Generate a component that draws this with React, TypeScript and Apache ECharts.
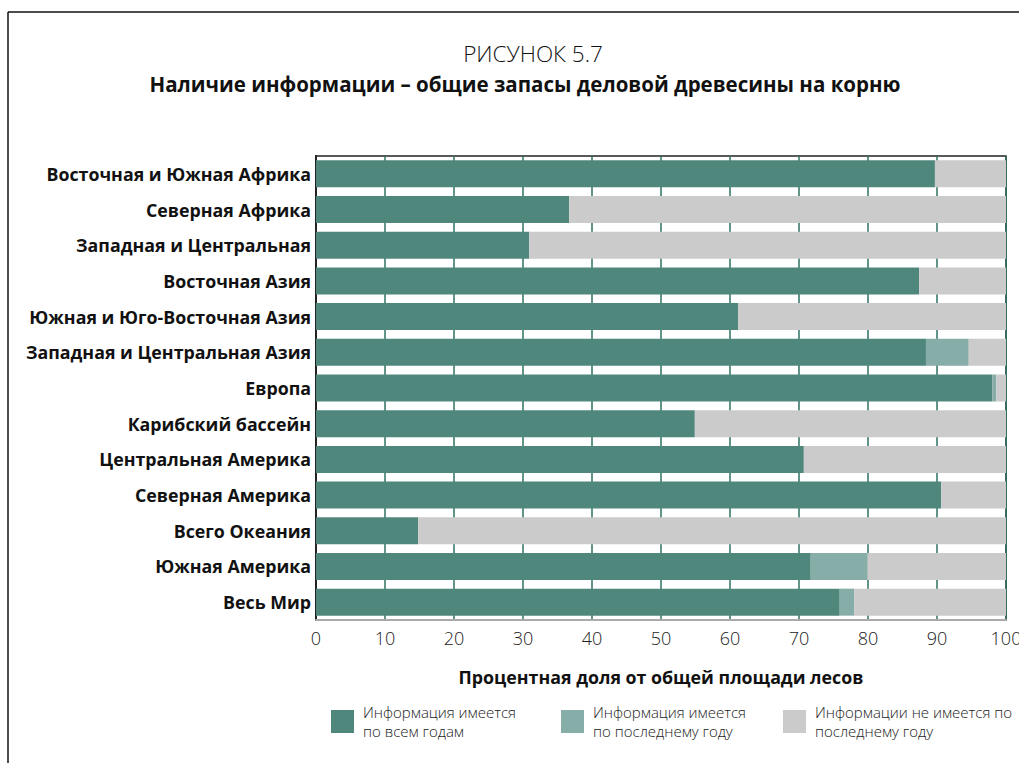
import React, { useEffect, useRef } from "react";
import * as echarts from "echarts";

const categories = [
  "Восточная и Южная Африка",
  "Северная Африка",
  "Западная и Центральная",
  "Восточная Азия",
  "Южная и Юго-Восточная Азия",
  "Западная и Центральная Азия",
  "Европа",
  "Карибский бассейн",
  "Центральная Америка",
  "Северная Америка",
  "Всего Океания",
  "Южная Америка",
  "Весь Мир",
];
const allYears = [89.7, 36.7, 30.9, 87.4, 61.2, 88.4, 98.0, 54.9, 70.7, 90.6, 14.8, 71.7, 75.9];
const lastYear = [0, 0, 0, 0, 0, 6.2, 0.6, 0, 0, 0, 0, 8.2, 2.1];
const noInfo = [10.3, 63.3, 69.1, 12.6, 38.8, 5.4, 1.4, 45.1, 29.3, 9.4, 85.2, 20.1, 22.0];

const seriesNames = [
  "Информация имеется\nпо всем годам",
  "Информация имеется\nпо последнему году",
  "Информации не имеется по\nпоследнему году",
];
const colors = ["#4F877D", "#87ADA8", "#CBCBCB"];

const FONT = "'Open Sans', 'Noto Sans', sans-serif";

export default function App() {
  const ref = useRef<HTMLDivElement>(null);
  useEffect(() => {
    if (!ref.current) return;
    const chart = echarts.init(ref.current, undefined, { renderer: "svg" });
    const legendPos = [331, 561, 783];
    chart.setOption({
      animation: false,
      backgroundColor: "#fff",
      title: [
        {
          text: "РИСУНОК 5.7",
          left: 528,
          top: 37,
          textAlign: "center",
          textStyle: { fontFamily: FONT, fontWeight: 300, fontSize: 22.5, color: "#111" },
        },
        {
          text: "Наличие информации – общие запасы деловой древесины на корню",
          left: 520,
          top: 68,
          textAlign: "center",
          textStyle: { fontFamily: FONT, fontWeight: "bold", fontSize: 20.5, color: "#111" },
        },
      ],
      legend: seriesNames.map((n, i) => ({
        data: [n],
        left: legendPos[i],
        top: 702,
        padding: 0,
        itemWidth: 23,
        itemHeight: 23,
        icon: "rect",
        align: "left",
        textStyle: {
          fontFamily: FONT,
          fontWeight: 300,
          fontSize: 15,
          color: "#222",
          lineHeight: 19,
          padding: [1, 0, 0, 4],
        },
      })),
      grid: {
        left: 316,
        right: 13,
        top: 156,
        bottom: 143,
        outerBoundsMode: "none",
        containLabel: false,
        show: true,
        borderColor: "#222",
        borderWidth: 1.5,
      },
      xAxis: {
        type: "value",
        min: 0,
        max: 100,
        interval: 10,
        name: "Процентная доля от общей площади лесов",
        nameLocation: "middle",
        nameGap: 48,
        nameTextStyle: { fontFamily: FONT, fontWeight: "bold", fontSize: 17.8, color: "#111" },
        axisLine: { show: true, lineStyle: { color: "#aaa", width: 2 } },
        axisTick: { show: false },
        axisLabel: { fontFamily: FONT, fontWeight: 300, fontSize: 18, color: "#222", margin: 9 },
        splitLine: { show: true, lineStyle: { color: "#2E7262", width: 1.5 } },
      },
      yAxis: {
        type: "category",
        data: categories,
        inverse: true,
        axisLine: { show: true, lineStyle: { color: "#222", width: 2 } },
        axisTick: { show: false },
        axisLabel: { fontFamily: FONT, fontWeight: "bold", fontSize: 17.8, color: "#111", margin: 5 },
      },
      series: [allYears, lastYear, noInfo].map((d, i) => ({
        name: seriesNames[i],
        type: "bar",
        stack: "total",
        data: d,
        barWidth: 27,
        itemStyle: { color: colors[i] },
      })),
      graphic: [
        { type: "line", shape: { x1: 8, y1: 12, x2: 1019, y2: 12 }, style: { stroke: "#111", lineWidth: 1.5 } },
        { type: "line", shape: { x1: 8, y1: 12, x2: 8, y2: 763 }, style: { stroke: "#111", lineWidth: 1.5 } },
      ],
    });
    return () => chart.dispose();
  }, []);
  return (
    <div
      ref={ref}
      style={{ position: "absolute", left: 0, top: 0, width: 1019, height: 763 }}
    />
  );
}
